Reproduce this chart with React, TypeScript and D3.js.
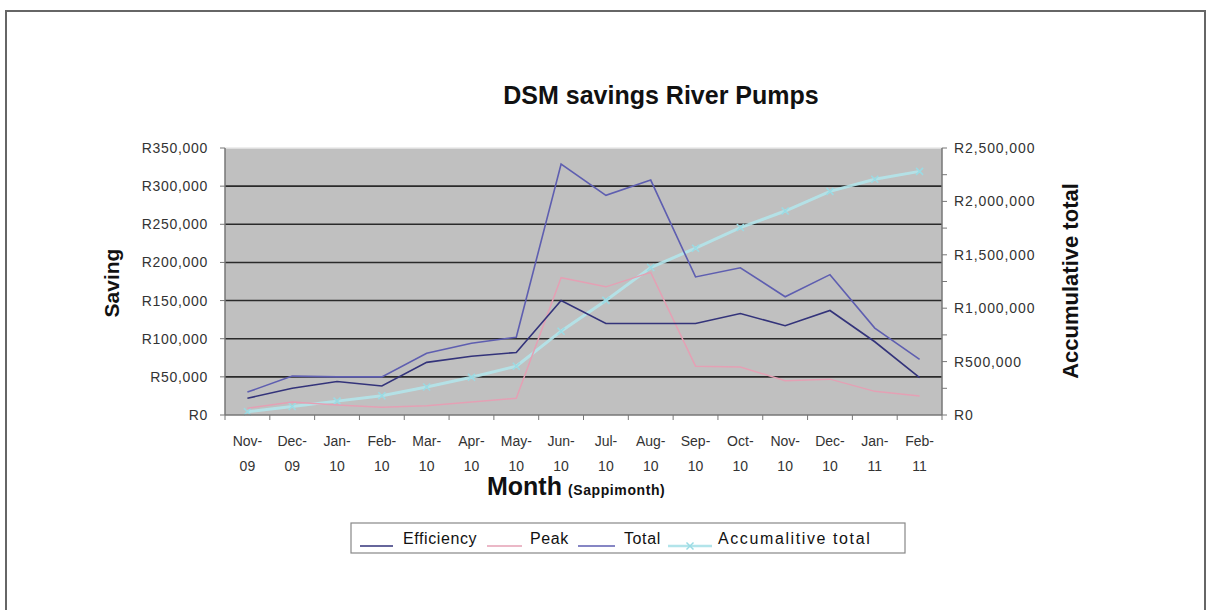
import React from "react";
import * as d3 from "d3";

const months = ["Nov-09","Dec-09","Jan-10","Feb-10","Mar-10","Apr-10","May-10","Jun-10","Jul-10","Aug-10","Sep-10","Oct-10","Nov-10","Dec-10","Jan-11","Feb-11"];
const efficiency = [22000,35000,44000,38000,69000,77000,82000,150000,120000,120000,120000,133000,117000,137000,96000,49000];
const peak = [9000,17000,13000,10000,12000,17000,22000,180000,168000,187000,64000,63000,45000,47000,31000,25000];
const total = [30000,51000,50000,50000,81000,94000,102000,329000,288000,308000,181000,193000,155000,184000,114000,73000];
const accumulative = [30000,80000,130000,180000,262000,354000,456000,785000,1073000,1381000,1562000,1755000,1910000,2094000,2208000,2281000];
const leftTicks = [0,50000,100000,150000,200000,250000,300000,350000];
const rightTicks = [0,500000,1000000,1500000,2000000,2500000];
const rightMinor = [0,250000,500000,750000,1000000,1250000,1500000,1750000,2000000,2250000,2500000];

const FONT = "'Liberation Sans', Arial, sans-serif";
const C_EFF = "#33337a";
const C_PEAK = "#e4a0b4";
const C_TOT = "#5e5eb0";
const C_ACC = "#b2e4ea";
const C_ACC_M = "#9adbe4";

export default function App() {
  const x = d3.scaleBand<string>().domain(months).range([225, 942]).padding(0);
  const cx = (m: string) => (x(m) as number) + x.bandwidth() / 2;
  const yL = d3.scaleLinear().domain([0, 350000]).range([415, 148]);
  const yR = d3.scaleLinear().domain([0, 2500000]).range([415, 148]);
  const fmt = (v: number) => "R" + d3.format(",")(v);

  const lineL = d3.line<number>().x((_, i) => cx(months[i])).y((d) => yL(d));
  const lineR = d3.line<number>().x((_, i) => cx(months[i])).y((d) => yR(d));

  const cross = (px: number, py: number, s: number, key: any, color: string) => (
    <g key={key} stroke={color} strokeWidth={1.5}>
      <line x1={px - s} y1={py - s} x2={px + s} y2={py + s} />
      <line x1={px - s} y1={py + s} x2={px + s} y2={py - s} />
    </g>
  );

  return (
    <svg width={1206} height={610} style={{ position: "absolute", left: 0, top: 0, background: "#fff" }} fontFamily={FONT}>
      <rect x={6} y={11} width={1199} height={620} fill="#fff" stroke="#666" strokeWidth={2} />
      <text x={661} y={104} textAnchor="middle" fontSize={25} fontWeight="bold" fill="#111">DSM savings River Pumps</text>

      {/* plot area */}
      <rect x={225} y={148} width={717} height={267} fill="#c0c0c0" />
      <line x1={225} x2={942} y1={148} y2={148} stroke="#e8e8e8" strokeWidth={1.5} />
      {leftTicks.filter((t) => t > 0 && t < 350000).map((t) => (
        <line key={t} x1={225} x2={942} y1={yL(t)} y2={yL(t)} stroke="#2a2a2a" strokeWidth={1.6} />
      ))}

      {/* series */}
      <path d={lineR(accumulative) || ""} fill="none" stroke={C_ACC} strokeWidth={3} opacity={0.9} />
      {accumulative.map((v, i) => cross(cx(months[i]), yR(v), 3.5, "c" + i, C_ACC_M))}
      <path d={lineL(peak) || ""} fill="none" stroke={C_PEAK} strokeWidth={1.5} />
      <path d={lineL(efficiency) || ""} fill="none" stroke={C_EFF} strokeWidth={1.6} />
      <path d={lineL(total) || ""} fill="none" stroke={C_TOT} strokeWidth={1.6} />

      {/* axes */}
      <line x1={225} x2={225} y1={148} y2={415} stroke="#777" strokeWidth={1.5} />
      <line x1={942} x2={942} y1={148} y2={415} stroke="#777" strokeWidth={1.5} />
      <line x1={225} x2={942} y1={415} y2={415} stroke="#777" strokeWidth={1.5} />
      {leftTicks.map((t) => (
        <g key={"l" + t}>
          <line x1={220} x2={225} y1={yL(t)} y2={yL(t)} stroke="#777" />
          <text x={208} y={yL(t) + 5} textAnchor="end" fontSize={14} letterSpacing={0.7} fill="#333">{fmt(t)}</text>
        </g>
      ))}
      {rightMinor.map((t) => (
        <line key={"rm" + t} x1={942} x2={947} y1={yR(t)} y2={yR(t)} stroke="#777" />
      ))}
      {rightTicks.map((t) => (
        <text key={"r" + t} x={954} y={yR(t) + 5} fontSize={14} letterSpacing={0.9} fill="#333">{fmt(t)}</text>
      ))}
      {months.map((m, i) => (
        <line key={"xt" + i} x1={x(m) as number} x2={x(m) as number} y1={415} y2={420} stroke="#777" />
      ))}
      <line x1={942} x2={942} y1={415} y2={420} stroke="#777" />
      {months.map((m) => {
        const [a, b] = m.split("-");
        return (
          <g key={"xl" + m}>
            <text x={cx(m)} y={446} textAnchor="middle" fontSize={14} fill="#333">{a + "-"}</text>
            <text x={cx(m)} y={471} textAnchor="middle" fontSize={14} fill="#333">{b}</text>
          </g>
        );
      })}

      <text transform="translate(119,283) rotate(-90)" textAnchor="middle" fontSize={21} fontWeight="bold" fill="#111">Saving</text>
      <text transform="translate(1078,281) rotate(-90)" textAnchor="middle" fontSize={22} fontWeight="bold" fill="#111">Accumulative total</text>
      <text x={487} y={495} fontSize={25} fontWeight="bold" fill="#111">Month<tspan fontSize={14} dx={6} letterSpacing={0.6}>(Sappimonth)</tspan></text>

      {/* legend */}
      <rect x={351} y={523} width={554} height={30} fill="#fff" stroke="#888" strokeWidth={1.2} />
      <line x1={360} x2={393} y1={546} y2={546} stroke={C_EFF} strokeWidth={1.5} />
      <text x={403} y={544} fontSize={16} letterSpacing={0.6} fill="#111">Efficiency</text>
      <line x1={487} x2={522} y1={546} y2={546} stroke={C_PEAK} strokeWidth={1.5} />
      <text x={530} y={544} fontSize={16} letterSpacing={0.6} fill="#111">Peak</text>
      <line x1={578} x2={615} y1={546} y2={546} stroke={C_TOT} strokeWidth={1.5} />
      <text x={624} y={544} fontSize={16} letterSpacing={0.6} fill="#111">Total</text>
      <line x1={668} x2={712} y1={546} y2={546} stroke={C_ACC} strokeWidth={2.5} />
      {cross(690, 546, 3.5, "lc", C_ACC_M)}
      <text x={718} y={544} fontSize={16} letterSpacing={1.6} fill="#111">Accumalitive total</text>
    </svg>
  );
}
